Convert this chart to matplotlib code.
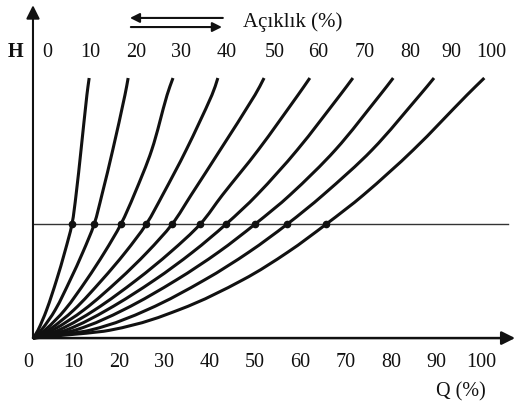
import numpy as np
import matplotlib.pyplot as plt
from matplotlib.path import Path
from matplotlib.patches import PathPatch

plt.rcParams['font.family'] = ['Liberation Serif', 'DejaVu Serif']

# valve openings (%) and flow Q (%) read at a few head levels H (top of curves = 100)
openings = [10, 20, 30, 40, 50, 60, 70, 80, 90, 100]
h_levels = [0, 3, 10.8, 22.3, 33.0, 43.8, 55.0, 72.3, 93.5, 100]
q_curves = [
    [0, 1.1, 3.0, 5.2, 7.0, 8.6, 9.5, 10.6, 11.9, 12.4],
    [0, 1.8, 4.9, 8.2, 11.0, 13.5, 15.2, 17.6, 20.3, 21.0],
    [0, 2.6, 7.0, 11.8, 15.8, 19.4, 22.3, 26.2, 29.6, 30.9],
    [0, 3.4, 9.0, 15.2, 20.4, 25.0, 28.6, 33.8, 39.5, 40.8],
    [0, 4.3, 11.2, 18.9, 25.2, 30.7, 34.9, 41.3, 49.0, 51.0],
    [0, 5.6, 13.6, 22.8, 30.3, 36.9, 41.8, 49.7, 58.5, 61.1],
    [0, 7.2, 16.3, 26.8, 35.2, 42.6, 49.4, 58.3, 67.8, 70.6],
    [0, 9.2, 19.9, 31.6, 40.9, 49.0, 56.7, 66.7, 76.6, 79.5],
    [0, 12.5, 25.1, 37.8, 47.6, 56.1, 64.0, 74.8, 85.4, 88.5],
    [0, 16.9, 32.1, 46.2, 56.2, 64.7, 72.9, 83.9, 95.8, 99.6],
]
h_system = 43.8          # horizontal line level
q_ticks = [0, 10, 20, 30, 40, 50, 60, 70, 80, 90, 100]
top_labels = [0, 10, 20, 30, 40, 50, 60, 70, 80, 90, 100]
top_label_x = [3.1, 12.6, 22.7, 32.7, 42.8, 53.4, 62.9, 73.3, 83.2, 92.3, 101.1]


def smooth_path(qs, hs):
    # cubic hermite through every point, parameter = H
    t = np.asarray(hs, float)
    pts = np.column_stack([qs, hs]).astype(float)
    n = len(t)
    m = np.zeros_like(pts)
    m[0] = (pts[1] - pts[0]) / (t[1] - t[0])
    m[-1] = (pts[-1] - pts[-2]) / (t[-1] - t[-2])
    for i in range(1, n - 1):
        m[i] = (pts[i + 1] - pts[i - 1]) / (t[i + 1] - t[i - 1])
    verts = [pts[0]]
    codes = [Path.MOVETO]
    for i in range(n - 1):
        h = t[i + 1] - t[i]
        verts += [pts[i] + m[i] * h / 3, pts[i + 1] - m[i + 1] * h / 3, pts[i + 1]]
        codes += [Path.CURVE4] * 3
    return Path(verts, codes)


fig = plt.figure(figsize=(5.21, 4.07), dpi=100)
ax = fig.add_axes([0, 0, 1, 1])
ax.set_xlim(-7.28, 107.7)
ax.set_ylim(-26.5, 130.0)
ax.axis('off')

ink = '#111111'

# axes with arrows
ax.annotate('', xy=(0, 128), xytext=(0, 0),
            arrowprops=dict(arrowstyle='-|>', mutation_scale=20, lw=1.5,
                            color=ink, shrinkA=0, shrinkB=0))
ax.annotate('', xy=(106.4, 0), xytext=(0, 0),
            arrowprops=dict(arrowstyle='-|>', mutation_scale=20, lw=1.8,
                            color=ink, shrinkA=0, shrinkB=0))

# valve curves
for q in q_curves:
    ax.add_patch(PathPatch(smooth_path(q, h_levels), facecolor='none',
                           edgecolor=ink, lw=2.2, capstyle='butt'))

# system line and crossing points
ax.plot([0, 104.9], [h_system, h_system], color='#333333', lw=1.0)
q_cross = [q[h_levels.index(h_system)] for q in q_curves]
ax.plot(q_cross, [h_system] * len(q_cross), 'o', color=ink, ms=4.5)

# bottom tick labels
for v in q_ticks:
    ax.text(v - 1, -9.3, str(v), ha='center', va='center', fontsize=14.5,
            color=ink)
ax.text(100, -20.8, 'Q (%)', ha='right', va='center', fontsize=14.5,
        color=ink)

# top opening labels
ax.text(-3.9, 110, 'H', ha='center', va='center', fontsize=14.5,
        fontweight='bold', color=ink)
for v, x in zip(top_labels, top_label_x):
    ax.text(x, 110, str(v), ha='center', va='center', fontsize=14.5,
            color=ink)

# double arrow + title
ax.annotate('', xy=(21.4, 123.1), xytext=(41.9, 123.1),
            arrowprops=dict(arrowstyle='-|>', mutation_scale=14, lw=1.5,
                            color=ink, shrinkA=0, shrinkB=0))
ax.annotate('', xy=(41.7, 119.6), xytext=(21.6, 119.6),
            arrowprops=dict(arrowstyle='-|>', mutation_scale=14, lw=1.5,
                            color=ink, shrinkA=0, shrinkB=0))
ax.text(46.4, 121.5, 'Açıklık (%)', ha='left', va='center', fontsize=15,
        color=ink)

fig.savefig('out.png', dpi=100)
